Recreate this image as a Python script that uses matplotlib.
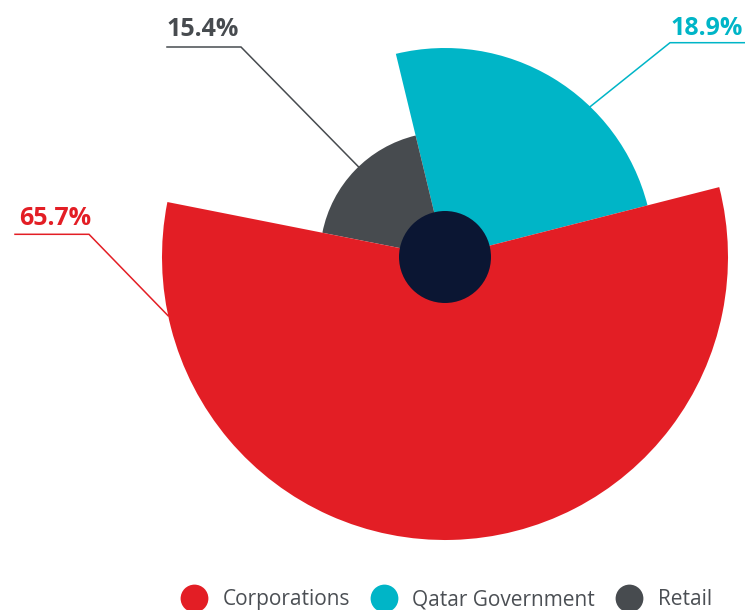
import numpy as np
import matplotlib.pyplot as plt
from matplotlib.patches import Wedge, Circle
from matplotlib.lines import Line2D

plt.rcParams["font.family"] = ["Open Sans", "DejaVu Sans"]

# share of deposits by customer type
categories = ["Corporations", "Qatar Government", "Retail"]
shares = [65.7, 18.9, 15.4]
colors = ["#E31E25", "#00B5C7", "#474B4F"]

# angular sweep (degrees) and outer radius (px) of each petal
sweep_deg = [205.5, 89.3, 65.2]
outer_radius = [283, 209, 125]

# drawing order counter-clockwise, starting at the right edge of the teal petal
draw_order = [1, 2, 0]
start_deg = 14.3

W, H = 745, 610
CX, CY = 445, H - 257
HUB_R = 46

# leader lines: angle on petal rim, knee point, far end of underline (px from top-left)
leader_angle = {0: 192.0, 1: 46.0, 2: 133.8}
leader_knee = {0: (89, 234.3), 1: (670, 42.7), 2: (241, 47)}
leader_end = {0: (15, 234.3), 1: (745, 42.7), 2: (167, 47)}
label_gap = {0: 9.3, 1: 7.7, 2: 11.0}
label_indent = {0: 4, 1: 2, 2: 0}


def px(x, y_top):
    return x, H - y_top


fig = plt.figure(figsize=(W / 100, H / 100), dpi=100)
ax = fig.add_axes([0, 0, 1, 1])
ax.set_xlim(0, W)
ax.set_ylim(0, H)
ax.set_aspect("equal")
ax.axis("off")

theta = start_deg
for i in draw_order:
    t1 = theta
    t2 = theta + sweep_deg[i]
    ax.add_patch(Wedge((CX, CY), outer_radius[i], t1, t2,
                       facecolor=colors[i], edgecolor="none"))
    theta = t2

ax.add_patch(Circle((CX, CY), HUB_R, facecolor="#0B1633", edgecolor="none", zorder=3))

for i in range(len(categories)):
    a = np.deg2rad(leader_angle[i])
    ax_x = CX + outer_radius[i] * np.cos(a)
    ax_y = CY + outer_radius[i] * np.sin(a)
    kx, ky = px(*leader_knee[i])
    ex, ey = px(*leader_end[i])
    ax.plot([ax_x, kx, ex], [ax_y, ky, ey], color=colors[i], lw=1.1,
            solid_joinstyle="miter", zorder=2)
    label = f"{shares[i]}%"
    if ex > kx:
        ax.text(ex - label_indent[i], ey + label_gap[i], label, ha="right",
                va="baseline", fontsize=18, fontweight="bold", color=colors[i])
    else:
        ax.text(ex + label_indent[i], ey + label_gap[i], label, ha="left",
                va="baseline", fontsize=18, fontweight="bold", color=colors[i])

handles = [Line2D([], [], marker="o", linestyle="none", markersize=20,
                  markerfacecolor=c, markeredgecolor="none") for c in colors]
fig.legend(handles, categories, loc="center", bbox_to_anchor=(0.601, 0.017),
           ncol=3, frameon=False, fontsize=15, handlelength=1.0,
           handletextpad=0.85, columnspacing=1.15, labelcolor="#4B4F54")

fig.savefig("out.png", dpi=100)
